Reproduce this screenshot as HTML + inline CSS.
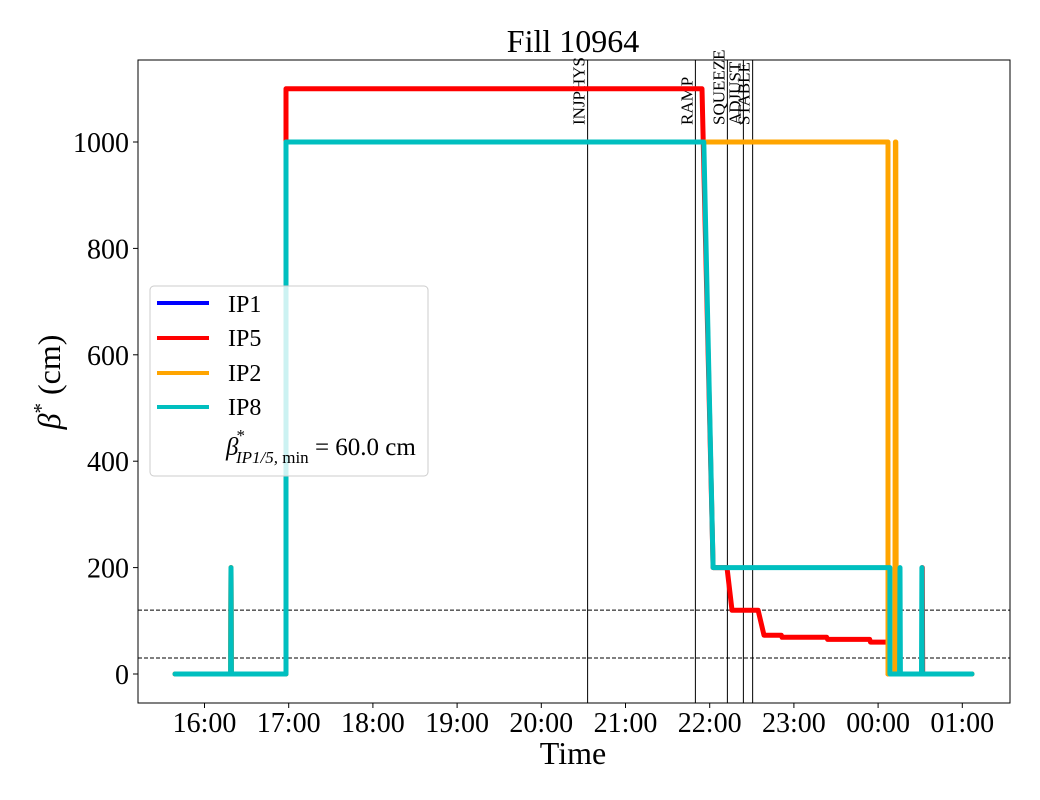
<!DOCTYPE html>
<html><head><meta charset="utf-8"><style>
body{margin:0;background:#fff}
svg{display:block;font-family:"Liberation Serif","DejaVu Serif",serif}
</style></head><body>
<svg id="chart" width="1040" height="800" viewBox="0 0 1040 800">
<rect x="0" y="0" width="1040" height="800" fill="#fff"/>
<g id="marks"></g>
<g id="axes"></g>
</svg>
<script>
// data (time in decimal hours; after midnight +24)
const xTicks = [16,17,18,19,20,21,22,23,24,25];
const xTickLabels = ["16:00","17:00","18:00","19:00","20:00","21:00","22:00","23:00","00:00","01:00"];
const yTicks = [0,200,400,600,800,1000];
const modeTimes = [20.55, 21.83, 22.21, 22.40, 22.51];
const modeNames = ["INJPHYS","RAMP","SQUEEZE","ADJUST","STABLE"];
const refLevels = [120, 30];
const ip1T = [15.65,16.31,16.315,16.32,16.968,16.968,21.909,22.04,22.205,22.265,22.575,22.645,22.85,22.86,23.39,23.40,23.9,23.91,24.117,24.117,24.19,24.195,24.2,24.52,24.525,24.53,25.115];
const ip1V = [0,0,200,0,0,1100,1100,200,200,120,120,73,73,69,69,65,65,60,60,0,0,330,0,0,200,0,0];
const ip5T = [15.65,16.31,16.315,16.32,16.968,16.968,21.909,22.04,22.205,22.265,22.575,22.645,22.85,22.86,23.39,23.40,23.9,23.91,24.117,24.117,24.52,24.525,24.53,25.115];
const ip5V = [0,0,200,0,0,1100,1100,200,200,120,120,73,73,69,69,65,65,60,60,0,0,200,0,0];
const ip2T = [15.65,16.31,16.315,16.32,16.968,16.968,24.117,24.117,24.20,24.205,24.21,24.215,25.115];
const ip2V = [0,0,200,0,0,1000,1000,0,0,1000,1000,0,0];
const ip8T = [15.65,16.31,16.315,16.32,16.968,16.968,21.93,22.04,24.14,24.14,24.255,24.26,24.265,24.515,24.52,24.525,25.115];
const ip8V = [0,0,200,0,0,1000,1000,200,200,0,0,200,0,0,200,0,0];

const L=138,R=1010,T=60,B=703;
const X = h => 204.5 + (h-16)*84.2;
const Y = v => 674 - v*0.532;
const NS="http://www.w3.org/2000/svg";
function mk(tag, attrs, parent){const e=document.createElementNS(NS,tag);for(const k in attrs)e.setAttribute(k,attrs[k]);parent.appendChild(e);return e;}
const marks=document.getElementById('marks'), axes=document.getElementById('axes');

refLevels.forEach((v,i)=>{
  const l=mk('line',{x1:L,x2:R,y1:Y(v),y2:Y(v),stroke:'#000','stroke-width':1,'stroke-dasharray':'4,2'},marks);
  
  
});
modeTimes.forEach((t,i)=>{
  const l=mk('line',{x1:X(t),x2:X(t),y1:T,y2:B,stroke:'#000','stroke-width':1},marks);
  
  
  const tx=mk('text',{x:0,y:0,transform:`translate(${X(t)-3},125) rotate(-90)`,'font-size':17,'text-anchor':'start'},marks);
  tx.textContent=modeNames[i];
  
  
});
function series(Ts,Vs,color,w,name){
  const pts=Ts.map((t,i)=>X(t).toFixed(1)+','+Y(Vs[i]).toFixed(1)).join(' ');
  const p=mk('polyline',{points:pts,fill:'none',stroke:color,'stroke-width':w,'stroke-linejoin':'round','stroke-linecap':'round'},marks);
  
  
}
series(ip1T,ip1V,'#0000ff',1.5,'ip1');
series(ip5T,ip5V,'#ff0000',5,'ip5');
series(ip2T,ip2V,'#ffa500',5,'ip2');
series(ip8T,ip8V,'#00bfbf',5,'ip8');

const fr=mk('rect',{x:L,y:T,width:R-L,height:B-T,fill:'none',stroke:'#000','stroke-width':1},axes);


xTicks.forEach((t,i)=>{
  mk('line',{x1:X(t),x2:X(t),y1:B,y2:B+5,stroke:'#000'},axes);
  const tx=mk('text',{x:X(t),y:B+29,'font-size':28,'text-anchor':'middle'},axes);
  tx.textContent=xTickLabels[i];
  
  
});
yTicks.forEach(v=>{
  mk('line',{x1:L-5,x2:L,y1:Y(v),y2:Y(v),stroke:'#000'},axes);
  const tx=mk('text',{x:L-9,y:Y(v)+10,'font-size':28,'text-anchor':'end'},axes);
  tx.textContent=v;
  
  
});
</script>
<div style="position:absolute;left:0;top:0;width:1040px;height:800px;pointer-events:none">
<svg width="1040" height="800" style="font-family:'Liberation Serif','DejaVu Serif',serif">
<text x="573" y="52" font-size="32" text-anchor="middle">Fill 10964</text>
<text x="573" y="764" font-size="32" text-anchor="middle">Time</text>
<text transform="translate(60,382) rotate(-90)" font-size="32" text-anchor="middle"><tspan font-style="italic">β</tspan><tspan dy="-12" font-size="21">*</tspan><tspan dy="12"> (cm)</tspan></text>
<g>
<rect x="150" y="286" width="278" height="190" rx="4" fill="#fff" fill-opacity="0.8" stroke="#ccc"/>
<g><line x1="157" x2="209" y1="303" y2="303" stroke="#0000ff" stroke-width="4"/><text x="228" y="312" font-size="24">IP1</text></g>
<g><line x1="157" x2="209" y1="338" y2="338" stroke="#ff0000" stroke-width="4"/><text x="228" y="346" font-size="24">IP5</text></g>
<g><line x1="157" x2="209" y1="373" y2="373" stroke="#ffa500" stroke-width="4"/><text x="228" y="381" font-size="24">IP2</text></g>
<g><line x1="157" x2="209" y1="407" y2="407" stroke="#00bfbf" stroke-width="4"/><text x="228" y="415" font-size="24">IP8</text></g>
<text x="226" y="455" font-size="25"><tspan font-style="italic">β</tspan><tspan dx="-2" dy="-14" font-size="17">*</tspan><tspan dx="-9" dy="22" font-size="17" font-style="italic">IP1/5,</tspan><tspan font-size="17"> min</tspan><tspan dy="-8"> = 60.0 cm</tspan></text>
</g>
</svg></div>
</body></html>
